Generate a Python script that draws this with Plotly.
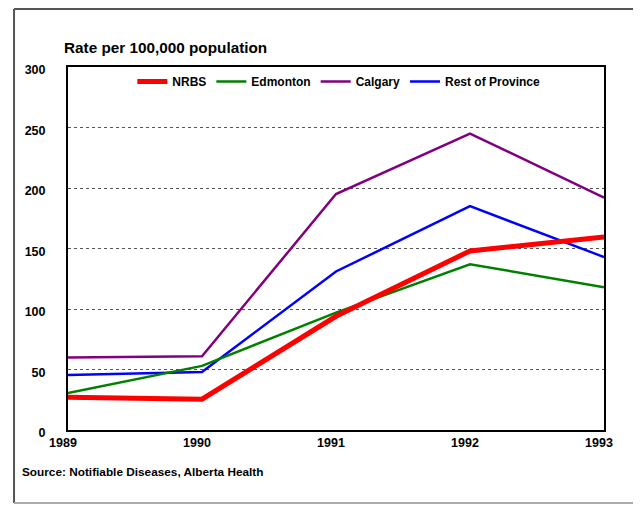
import plotly.graph_objects as go

years = [1989, 1990, 1991, 1992, 1993]
nrbs = [27, 25.5, 94, 148, 159.5]
edmonton = [30.5, 53, 97, 137, 118]
calgary = [60, 61, 195, 245, 192]
rest_of_province = [45.5, 48, 131, 185, 143]

FONT = "Arial, Liberation Sans, sans-serif"

fig = go.Figure()
fig.add_trace(go.Scatter(x=years, y=calgary, mode="lines", name="Calgary", legendrank=3,
                         line=dict(color="#800080", width=2.5)))
fig.add_trace(go.Scatter(x=years, y=rest_of_province, mode="lines", name="Rest of Province",
                         legendrank=4, line=dict(color="#0000ff", width=2.5)))
fig.add_trace(go.Scatter(x=years, y=edmonton, mode="lines", name="Edmonton", legendrank=2,
                         line=dict(color="#008000", width=2.5)))
fig.add_trace(go.Scatter(x=years, y=nrbs, mode="lines", name="NRBS", legendrank=1,
                         line=dict(color="#ff0000", width=5)))

# the page is drawn with an 8px body margin, so margins are offset accordingly
fig.update_layout(
    width=641, height=506,
    margin=dict(l=60, r=45, t=59, b=84),
    paper_bgcolor="white", plot_bgcolor="white",
    font=dict(family=FONT, color="black", size=12),
    showlegend=True,
    legend=dict(orientation="h", x=0.12, y=0.96, yanchor="middle",
                bgcolor="rgba(0,0,0,0)",
                font=dict(size=12, weight="bold"), itemwidth=30),
    title=dict(text="Rate per 100,000 population", x=56 / 641, xref="container",
               xanchor="left", y=1 - 40 / 506, yanchor="middle",
               font=dict(size=15.3, weight="bold")),
)

fig.update_xaxes(range=[1989, 1993], tickvals=years, ticktext=[str(y) for y in years],
                 showgrid=False, showline=True, linecolor="black", linewidth=2,
                 mirror=True, zeroline=False, ticks="", ticklabelshift=-5,
                 tickfont=dict(size=12.5, weight="bold"))
fig.update_yaxes(range=[0, 300], tickvals=[0, 50, 100, 150, 200, 250, 300],
                 showgrid=True, gridcolor="#555", gridwidth=1, griddash="dot",
                 showline=True, linecolor="black", linewidth=2, mirror=True,
                 zeroline=False, ticks="", ticklabelstandoff=18, ticklabelshift=3,
                 tickfont=dict(size=12.5, weight="bold"))

fig.add_annotation(text="Source: Notifiable Diseases, Alberta Health",
                   xref="paper", yref="paper", x=-0.0896, y=-0.1157,
                   xanchor="left", yanchor="middle", showarrow=False,
                   font=dict(size=11.8, weight="bold"))

# outer frame around the whole chart (left, top, bottom; right runs off the page)
frame_left, frame_right, frame_bottom, frame_top = -0.1007, 1.2, -0.201, 1.16
fig.add_shape(type="line", xref="paper", yref="paper",
              x0=frame_left, x1=frame_left, y0=frame_bottom, y1=frame_top,
              line=dict(color="#555", width=2), layer="below")
fig.add_shape(type="line", xref="paper", yref="paper",
              x0=frame_left, x1=frame_right, y0=frame_top, y1=frame_top,
              line=dict(color="#555", width=2), layer="below")
fig.add_shape(type="line", xref="paper", yref="paper",
              x0=frame_left, x1=frame_right, y0=frame_bottom, y1=frame_bottom,
              line=dict(color="#aaa", width=2), layer="below")

fig.write_html("out.html")
